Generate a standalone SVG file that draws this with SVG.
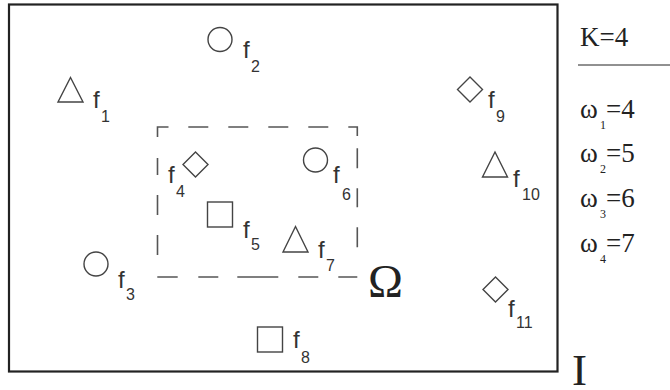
<svg xmlns="http://www.w3.org/2000/svg" width="670" height="390" viewBox="0 0 670 390">
<style>
.sh{fill:none;stroke:#444;stroke-width:1.4}
.f{font-family:"Liberation Sans",Arial,sans-serif;font-size:24px;fill:#333}
.s{font-family:"Liberation Sans",Arial,sans-serif;font-size:16px;fill:#333}
.t{font-family:"Liberation Serif","Times New Roman",serif;fill:#222}
.d{stroke:#555;stroke-width:1.6;fill:none}
</style>
<rect width="670" height="390" fill="#fff"/>
<rect x="9" y="4.5" width="548.5" height="367" fill="none" stroke="#222" stroke-width="2.2"/>
<g id="omega-region">
<path class="d" d="M157.5 137V127H168.5M188.3 127H208.3M228.3 127H248.3M268.3 127H288.3M308.3 127H328.3M348.3 127H357.3V136M357.3 148.3V168.3M357.3 188.3V207.3M357.3 227.3V247.3M157.5 158V175M157.5 195V215M157.5 235V255M157.3 277H177.7M198.3 277H218.3M237.3 277H278.3M298.3 277H318.3M338.3 277H357.3"/>
<text class="t" x="368" y="297" font-size="47">Ω</text>
</g>
<g id="f1"><path class="sh" d="M70.5 77.5L83 102H58Z"/><text class="f" x="93" y="108">f</text><text class="s" x="101" y="122">1</text></g>
<g id="f2"><circle class="sh" cx="220" cy="39.5" r="12"/><text class="f" x="243" y="58">f</text><text class="s" x="251" y="72">2</text></g>
<g id="f3"><circle class="sh" cx="96" cy="264" r="12"/><text class="f" x="118" y="288">f</text><text class="s" x="126" y="300">3</text></g>
<g id="f4"><path class="sh" d="M195.5 152L208 164.5L195.5 177L183 164.5Z"/><text class="f" x="168" y="183">f</text><text class="s" x="176" y="197">4</text></g>
<g id="f5"><rect class="sh" x="207.5" y="202" width="25" height="25"/><text class="f" x="243" y="238">f</text><text class="s" x="251" y="250">5</text></g>
<g id="f6"><circle class="sh" cx="315.5" cy="160" r="12"/><text class="f" x="333" y="183">f</text><text class="s" x="342" y="200">6</text></g>
<g id="f7"><path class="sh" d="M295.5 226.5L308 252H283Z"/><text class="f" x="318" y="258">f</text><text class="s" x="326" y="271">7</text></g>
<g id="f8"><rect class="sh" x="257.5" y="327" width="25" height="25"/><text class="f" x="293" y="348">f</text><text class="s" x="301" y="363">8</text></g>
<g id="f9"><path class="sh" d="M470 77L482.5 89.5L470 102L457.5 89.5Z"/><text class="f" x="488" y="108">f</text><text class="s" x="496" y="122">9</text></g>
<g id="f10"><path class="sh" d="M495 152L507.5 177H482.5Z"/><text class="f" x="513" y="187">f</text><text class="s" x="522" y="200">10</text></g>
<g id="f11"><path class="sh" d="M495.5 277L508 289.5L495.5 302L483 289.5Z"/><text class="f" x="508" y="317">f</text><text class="s" x="516" y="328">11</text></g>
<g id="legend">
<text class="t" x="580" y="46" font-size="27">K=4</text>
<line x1="578" y1="65" x2="670" y2="65" stroke="#222" stroke-width="1"/>
<text class="t" x="580" y="118" font-size="27">ω</text><text class="t" x="600" y="129" font-size="12">1</text><text class="t" x="606" y="118" font-size="27">=4</text>
<text class="t" x="580" y="162" font-size="27">ω</text><text class="t" x="600" y="173" font-size="12">2</text><text class="t" x="606" y="162" font-size="27">=5</text>
<text class="t" x="580" y="207" font-size="27">ω</text><text class="t" x="600" y="218" font-size="12">3</text><text class="t" x="606" y="207" font-size="27">=6</text>
<text class="t" x="580" y="252" font-size="27">ω</text><text class="t" x="600" y="263" font-size="12">4</text><text class="t" x="606" y="252" font-size="27">=7</text>
</g>
<text class="t" x="572" y="385" font-size="45">I</text>
</svg>
